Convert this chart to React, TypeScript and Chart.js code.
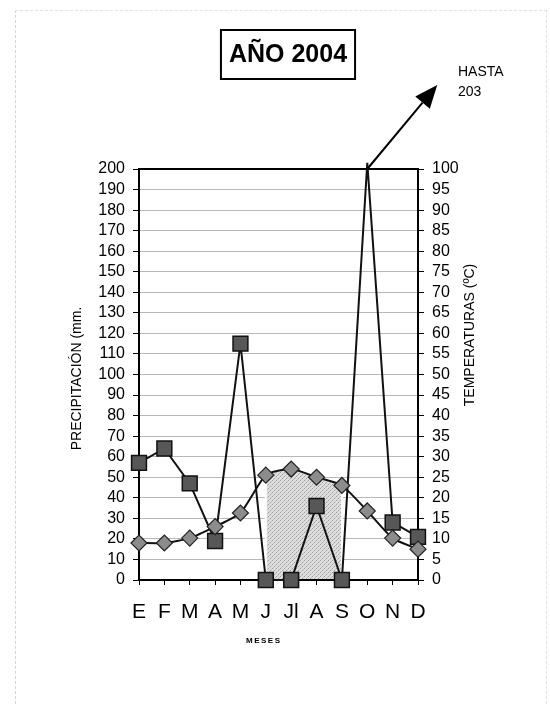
import React, { useEffect, useRef } from 'react';
import { Chart, registerables } from 'chart.js';

Chart.register(...registerables);

// ---- data ----
const months = ['E', 'F', 'M', 'A', 'M', 'J', 'Jl', 'A', 'S', 'O', 'N', 'D'];
const precipitation = [57, 64, 47, 19, 115, 0, 0, 36, 0, 203, 28, 21];
const temperature = [9, 9, 10.2, 13, 16.3, 25.5, 27, 25, 23, 16.8, 10.2, 7.5];
const precipAxis = { min: 0, max: 200, step: 10 };
const tempAxis = { min: 0, max: 100, step: 5 };
const dryStart = 'J';
const dryEnd = 'S';
const titleText = 'AÑO 2004';
const precipTitle = 'PRECIPITACIÓN (mm.';
const tempTitle = 'TEMPERATURAS (ºC)';
const xTitle = 'MESES';

const FONT = "'Liberation Sans', Arial, sans-serif";

function makeShadePattern(): CanvasPattern | string {
  const c = document.createElement('canvas');
  c.width = 4;
  c.height = 4;
  const g = c.getContext('2d');
  if (!g) return '#d0d0d0';
  g.fillStyle = '#dedede';
  g.fillRect(0, 0, 4, 4);
  g.fillStyle = '#9c9c9c';
  g.fillRect(0, 0, 1, 1);
  g.fillRect(2, 2, 1, 1);
  g.fillStyle = '#bdbdbd';
  g.fillRect(1, 3, 1, 1);
  g.fillRect(3, 1, 1, 1);
  const p = g.createPattern(c, 'repeat');
  return p || '#d0d0d0';
}

export default function App() {
  const ref = useRef<HTMLCanvasElement | null>(null);

  useEffect(() => {
    const canvas = ref.current;
    if (!canvas) return;
    const shade = makeShadePattern();

    const iStart = months.indexOf(dryStart);
    const iEnd = months.lastIndexOf(dryEnd);

    const shadePlugin = {
      id: 'dryShade',
      beforeDatasetsDraw(chart: any) {
        const ctx = chart.ctx;
        const meta = chart.getDatasetMeta(1);
        const pts = meta.data;
        const yZero = chart.scales.y.getPixelForValue(0);
        ctx.save();
        ctx.beginPath();
        ctx.moveTo(pts[iStart].x, pts[iStart].y);
        for (let i = iStart + 1; i <= iEnd; i++) {
          const a = pts[i - 1];
          const b = pts[i];
          if (a.cp2x !== undefined && b.cp1x !== undefined) {
            ctx.bezierCurveTo(a.cp2x, a.cp2y, b.cp1x, b.cp1y, b.x, b.y);
          } else {
            ctx.lineTo(b.x, b.y);
          }
        }
        ctx.lineTo(pts[iEnd].x, yZero);
        ctx.lineTo(pts[iStart].x, yZero);
        ctx.closePath();
        ctx.fillStyle = shade;
        ctx.fill();
        ctx.strokeStyle = '#ffffff';
        ctx.lineWidth = 2;
        ctx.stroke();
        // plot frame
        const a = chart.chartArea;
        ctx.strokeStyle = '#000';
        ctx.lineWidth = 2;
        ctx.strokeRect(a.left, a.top, a.right - a.left, a.bottom - a.top);
        ctx.restore();
      },
    };

    const textPlugin = {
      id: 'texts',
      afterDraw(chart: any) {
        const ctx = chart.ctx;
        const area = chart.chartArea;
        ctx.save();
        ctx.fillStyle = '#000';
        ctx.textBaseline = 'middle';

        // title box
        ctx.font = `bold 25px ${FONT}`;
        ctx.textAlign = 'center';
        const tw = ctx.measureText(titleText).width;
        const cx = 288;
        const cy = 54;
        ctx.lineWidth = 2;
        ctx.strokeStyle = '#000';
        ctx.strokeRect(cx - tw / 2 - 8, cy - 24, tw + 16, 49);
        ctx.fillText(titleText, cx, cy + 1);

        // left axis title
        ctx.font = `14px ${FONT}`;
        ctx.save();
        ctx.translate(77, (area.top + area.bottom) / 2 + 4);
        ctx.rotate(-Math.PI / 2);
        ctx.textAlign = 'center';
        ctx.fillText(precipTitle, 0, 0);
        ctx.restore();

        // right axis title
        ctx.save();
        ctx.translate(470, 335);
        ctx.rotate(-Math.PI / 2);
        ctx.textAlign = 'center';
        ctx.fillText(tempTitle, 0, 0);
        ctx.restore();

        // x axis title (small, spaced, bold)
        ctx.font = `bold 8px ${FONT}`;
        ctx.textAlign = 'left';
        const spacing = 1.5;
        let total = 0;
        for (const ch of xTitle) total += ctx.measureText(ch).width + spacing;
        total -= spacing;
        let x = 263 - total / 2;
        for (const ch of xTitle) {
          ctx.fillText(ch, x, 641);
          x += ctx.measureText(ch).width + spacing;
        }

        // arrow from the clipped peak
        const meta = chart.getDatasetMeta(0);
        let peak = 0;
        precipitation.forEach((v, i) => {
          if (v > precipitation[peak]) peak = i;
        });
        const p = meta.data[peak];
        const sx = p.x;
        const sy = chart.scales.y.getPixelForValue(precipAxis.max);
        const tx = sx + 70;
        const ty = sy - 84;
        const ang = Math.atan2(ty - sy, tx - sx);
        const hl = 23;
        const hw = 9.5;
        const bx = tx - Math.cos(ang) * hl;
        const by = ty - Math.sin(ang) * hl;
        ctx.strokeStyle = '#000';
        ctx.lineWidth = 2;
        ctx.beginPath();
        ctx.moveTo(sx, sy);
        ctx.lineTo(bx, by);
        ctx.stroke();
        ctx.beginPath();
        ctx.moveTo(tx, ty);
        ctx.lineTo(bx - Math.sin(ang) * hw, by + Math.cos(ang) * hw);
        ctx.lineTo(bx + Math.sin(ang) * hw, by - Math.cos(ang) * hw);
        ctx.closePath();
        ctx.fillStyle = '#000';
        ctx.fill();

        ctx.font = `14px ${FONT}`;
        ctx.textAlign = 'left';
        ctx.fillText('HASTA', 458, 72);
        ctx.fillText(String(precipitation[peak]), 458, 92);
        ctx.restore();
      },
    };

    const chart = new Chart(canvas, {
      type: 'line',
      data: {
        labels: months,
        datasets: [
          {
            label: 'Precipitación',
            data: precipitation,
            yAxisID: 'y',
            borderColor: '#111',
            borderWidth: 2,
            tension: 0,
            pointStyle: 'rect',
            pointRadius: (c: any) => (c.raw > precipAxis.max ? 0 : 10.5),
            pointBackgroundColor: '#575757',
            pointBorderColor: '#111',
            pointBorderWidth: 1.5,
            clip: false,
            order: 1,
          } as any,
          {
            label: 'Temperatura',
            data: temperature,
            yAxisID: 'y2',
            borderColor: '#111',
            borderWidth: 2,
            tension: 0.2,
            pointStyle: 'rectRot',
            pointRadius: 8,
            pointBackgroundColor: '#8c8c8c',
            pointBorderColor: '#222',
            pointBorderWidth: 1.2,
            order: 0,
          } as any,
        ],
      },
      options: {
        responsive: false,
        animation: false,
        events: [],
        layout: { padding: { top: 169, left: 0, right: 0, bottom: 0 } },
        plugins: { legend: { display: false }, tooltip: { enabled: false }, title: { display: false } },
        scales: {
          x: {
            offset: false,
            grid: { display: true, drawOnChartArea: false, tickLength: 5, color: '#000', lineWidth: 1 },
            border: { display: false },
            ticks: { font: { family: FONT, size: 21 }, color: '#000', padding: 15, maxRotation: 0, autoSkip: false },
            afterFit: (s: any) => {
              s.height = 124;
            },
          },
          y: {
            position: 'left',
            min: precipAxis.min,
            max: precipAxis.max,
            ticks: { stepSize: precipAxis.step, autoSkip: false, font: { family: FONT, size: 16 }, color: '#000', padding: 8 },
            grid: { color: '#b8b8b8', tickColor: '#000', tickLength: 6, lineWidth: 1 },
            border: { display: false },
            afterFit: (s: any) => {
              s.width = 139;
            },
          },
          y2: {
            position: 'right',
            min: tempAxis.min,
            max: tempAxis.max,
            ticks: { stepSize: tempAxis.step, autoSkip: false, font: { family: FONT, size: 16 }, color: '#000', padding: 8 },
            grid: { drawOnChartArea: false, tickColor: '#000', tickLength: 6, lineWidth: 1 },
            border: { display: false },
            afterFit: (s: any) => {
              s.width = 132;
            },
          },
        },
      } as any,
      plugins: [shadePlugin, textPlugin],
    });

    return () => chart.destroy();
  }, []);

  return (
    <div style={{ position: 'absolute', left: 0, top: 0, width: 550, height: 704, background: '#fff' }}>
      <div
        style={{
          position: 'absolute',
          left: 15,
          top: 10,
          width: 532,
          height: 694,
          borderLeft: '1px dashed #d4d4d4',
          borderTop: '1px dashed #e2e2e2',
          borderRight: '1px dashed #e2e2e2',
          boxSizing: 'border-box',
        }}
      />
      <canvas ref={ref} width={550} height={704} style={{ position: 'absolute', left: 0, top: 0 }} />
    </div>
  );
}
